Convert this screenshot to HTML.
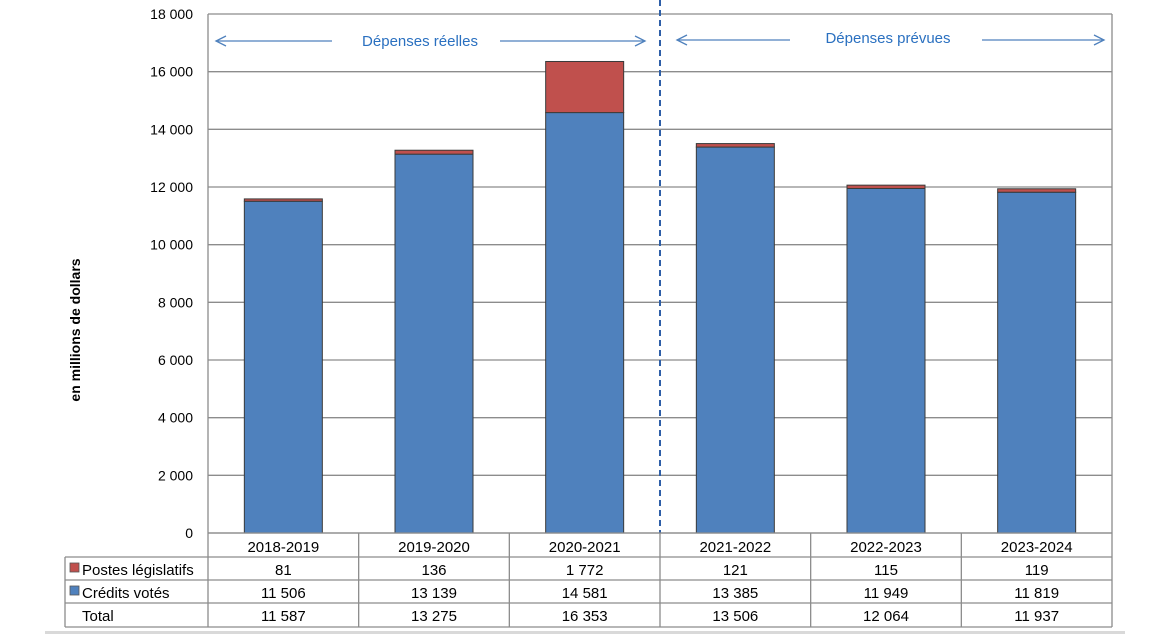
<!DOCTYPE html>
<html><head><meta charset="utf-8"><style>
body{margin:0;background:#fff;font-family:"Liberation Sans",sans-serif;}
svg{display:block}
</style></head><body>
<svg width="1170" height="634">
<g id="g"></g>
</svg>
<script>
const categories=["2018-2019","2019-2020","2020-2021","2021-2022","2022-2023","2023-2024"];
const statutory=[81,136,1772,121,115,119];
const voted=[11506,13139,14581,13385,11949,11819];
const totals=[11587,13275,16353,13506,12064,11937];
const yTicks=[0,2000,4000,6000,8000,10000,12000,14000,16000,18000];
const fmt=v=>String(v).replace(/\B(?=(\d{3})+(?!\d))/g,"\u00a0");
const X0=208,X1=1112,Y0=533,Y1=14,YMAX=18000;
const cw=(X1-X0)/categories.length;
const y=v=>Y0-(v/YMAX)*(Y0-Y1);
const xc=i=>X0+cw*(i+0.5);
const NS="http://www.w3.org/2000/svg";
const g=document.getElementById('g');
function mk(t,a,txt){const e=document.createElementNS(NS,t);for(const k in a)e.setAttribute(k,a[k]);if(txt!==undefined)e.textContent=txt;g.appendChild(e);return e;}
// grid + y labels
yTicks.forEach(v=>{
 const l=mk('line',{x1:X0,x2:X1,y1:y(v),y2:y(v),stroke:'#8c8c8c','stroke-width':1.3});
 
 
 const t=mk('text',{x:193,y:y(v)+5,'text-anchor':'end','font-size':14,fill:'#000'},fmt(v));
 
 
});
mk('line',{x1:X0,x2:X0,y1:Y1,y2:Y0,stroke:'#8c8c8c','stroke-width':1.3});
mk('line',{x1:X1,x2:X1,y1:Y1,y2:Y0,stroke:'#8c8c8c','stroke-width':1.3});
const yt=mk('text',{x:0,y:0,transform:'translate(80,330) rotate(-90)','text-anchor':'middle','font-size':14,'font-weight':'bold'},'en millions de dollars');


// bars
const bw=78;
categories.forEach((c,i)=>{
 const b=mk('rect',{x:xc(i)-bw/2,y:y(voted[i]),width:bw,height:Y0-y(voted[i]),fill:'#4f81bd',stroke:'#3a3a3a','stroke-width':1});
 
 
 const r=mk('rect',{x:xc(i)-bw/2,y:y(voted[i]+statutory[i]),width:bw,height:y(voted[i])-y(voted[i]+statutory[i]),fill:'#c0504d',stroke:'#3a3a3a','stroke-width':1});
 
 
});
// dashed divider
const d=mk('line',{x1:660,x2:660,y1:0,y2:533,stroke:'#2e5fa8','stroke-width':2,'stroke-dasharray':'6,4'});


// arrows
function arrow(x1,x2,yy,dir){
 mk('line',{x1:x1,x2:x2,y1:yy,y2:yy,stroke:'#4f81bd','stroke-width':1.3});
 const tip=dir<0?x1:x2;
 mk('polyline',{points:`${tip-dir*10},${yy-5} ${tip},${yy} ${tip-dir*10},${yy+5}`,fill:'none',stroke:'#4f81bd','stroke-width':1.3});
}
arrow(216,332,41,-1);arrow(500,645,41,1);
arrow(677,790,40,-1);arrow(982,1104,40,1);
let t=mk('text',{x:420,y:46,'text-anchor':'middle','font-size':15,fill:'#2a70c0'},'Dépenses réelles');

t=mk('text',{x:888,y:43,'text-anchor':'middle','font-size':15,fill:'#2a70c0'},'Dépenses prévues');

// table
const rows=[533,557,580,603,627];
const TL=65;
const st={stroke:'#8c8c8c','stroke-width':1.3};
for(let k=0;k<rows.length;k++){mk('line',Object.assign({x1:k==0?X0:TL,x2:X1,y1:rows[k],y2:rows[k]},st));}
mk('line',Object.assign({x1:TL,x2:TL,y1:557,y2:627},st));
for(let i=0;i<=categories.length;i++){const xx=X0+cw*i;mk('line',Object.assign({x1:xx,x2:xx,y1:533,y2:627},st));}
categories.forEach((c,i)=>{
 let e=mk('text',{x:xc(i),y:552,'text-anchor':'middle','font-size':15},c);
 
 e=mk('text',{x:xc(i),y:575,'text-anchor':'middle','font-size':15},fmt(statutory[i]));
 
 e=mk('text',{x:xc(i),y:598,'text-anchor':'middle','font-size':15},fmt(voted[i]));
 
 e=mk('text',{x:xc(i),y:621,'text-anchor':'middle','font-size':15},fmt(totals[i]));
 
});
let s=mk('rect',{x:70,y:563,width:9,height:9,fill:'#c0504d',stroke:'#555','stroke-width':0.8});

s=mk('rect',{x:70,y:586,width:9,height:9,fill:'#4f81bd',stroke:'#555','stroke-width':0.8});

t=mk('text',{x:82,y:575,'font-size':15},'Postes législatifs');

t=mk('text',{x:82,y:598,'font-size':15},'Crédits votés');

t=mk('text',{x:82,y:621,'font-size':15},'Total');

mk('rect',{x:45,y:631,width:1080,height:3,fill:'#d9d9d9'});
</script>
</body></html>
